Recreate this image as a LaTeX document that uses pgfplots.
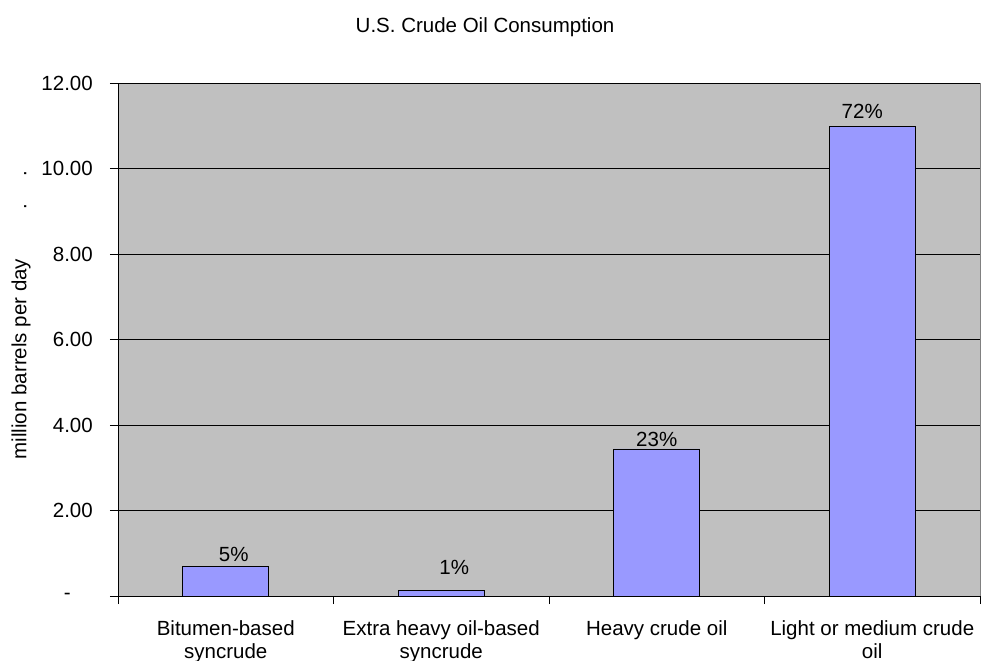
\documentclass[border=0pt]{standalone}
\usepackage{pgfplots}
\usepackage{pgfplotstable}
\pgfplotsset{compat=1.18}
\usepackage{fontspec}
\setmainfont{Liberation Sans}
\definecolor{plotbg}{HTML}{C0C0C0}
\definecolor{barfill}{HTML}{9999FF}
\definecolor{framegray}{HTML}{808080}

\pgfplotstableread{
x y label dx dy
0 0.69 5\% 8 5
1 0.14 1\% 13 15
2 3.44 23\% 0 2.3
3 10.98 72\% -10 8
}\datatable

\begin{document}
\begin{tikzpicture}[font=\fontsize{20.5bp}{23bp}\selectfont]
\begin{axis}[
  scale only axis, width=862bp, height=513bp,
  xmin=-0.5, xmax=3.5, ymin=0, ymax=12,
  axis background/.style={fill=plotbg, draw=framegray, line width=0.8bp},
  axis x line*=bottom, axis y line*=left,
  axis line style={-, black, line width=0.8bp},
  ytick={0,2,4,6,8,10,12},
  yticklabels={{-\kern22bp\mbox{}},2.00,4.00,6.00,8.00,10.00,12.00},
  yticklabel style={anchor=east, inner sep=0pt, xshift=-17bp},
  xtick={-0.5,0.5,1.5,2.5,3.5},
  xticklabels={{Bitumen-based\\syncrude},{Extra heavy oil-based\\syncrude},{Heavy crude oil},{Light or medium crude\\oil},{}},
  xticklabel style={align=center, anchor=north, xshift=107.75bp, yshift=-16bp, inner sep=0pt},
  tick align=outside, major tick length=8bp,
  tick style={black, line width=0.8bp},
  ymajorgrids, major grid style={black, line width=0.8bp},
  ylabel={million barrels per day\hspace{49bp}.\hspace{28bp}.},
  ylabel style={at={(axis description cs:-0.1125,0.548)}, anchor=center},
  title={U.S. Crude Oil Consumption},
  title style={at={(axis description cs:0.4258,1.0994)}, anchor=base, yshift=-6pt},
]
\addplot[ybar, bar width=86bp, fill=barfill, draw=black, line width=0.8bp,
  nodes near coords, point meta=explicit symbolic,
  visualization depends on={\thisrow{dx} \as \mydx},
  visualization depends on={\thisrow{dy} \as \mydy},
  every node near coord/.append style={anchor=south, inner sep=0pt, text depth=0pt, xshift=\mydx*1bp, yshift=\mydy*1bp, black}
] table[x=x, y=y, meta=label] {\datatable};
\end{axis}
\pgfresetboundingbox
\path[use as bounding box] (-118bp,-65bp) rectangle (863bp,596bp);
\end{tikzpicture}
\end{document}
